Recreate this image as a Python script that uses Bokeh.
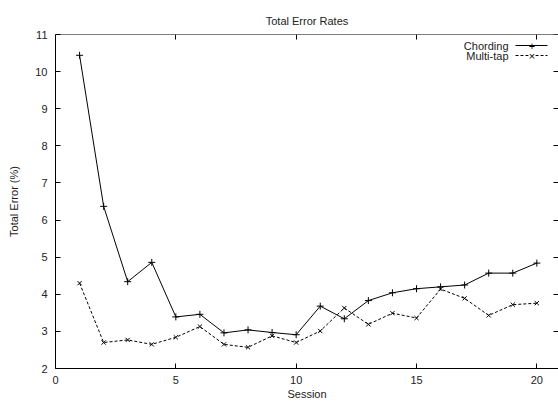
from bokeh.plotting import figure
from bokeh.models import Range1d, LinearAxis, FixedTicker, Label, Arrow
from bokeh.embed import file_html
from bokeh.resources import INLINE

sessions = list(range(1, 21))
chording = [10.44, 6.37, 4.34, 4.86, 3.39, 3.46, 2.96, 3.04, 2.97, 2.91,
            3.68, 3.34, 3.83, 4.04, 4.15, 4.20, 4.25, 4.57, 4.57, 4.84]
multitap = [4.30, 2.70, 2.77, 2.65, 2.84, 3.13, 2.65, 2.57, 2.88, 2.70,
            3.01, 3.63, 3.19, 3.49, 3.36, 4.14, 3.89, 3.43, 3.72, 3.76]
x_ticks = [0, 5, 10, 15, 20]
y_ticks = list(range(2, 12))
series_names = ["Chording", "Multi-tap"]
title_text = "Total Error Rates"

FONT = "Liberation Sans"
FS = "11px"
X_END = 20.9
Y_END = 11

p = figure(width=558, height=402, output_backend="svg", toolbar_location=None,
           title=title_text,
           x_range=Range1d(0, X_END), y_range=Range1d(2, Y_END),
           min_border_left=55, min_border_top=34, min_border_bottom=32,
           min_border_right=0)
p.background_fill_color = "white"
p.border_fill_color = "white"
p.outline_line_color = None
p.xgrid.visible = False
p.ygrid.visible = False

p.title.align = "center"
p.title.text_font = FONT
p.title.text_font_size = FS
p.title.text_font_style = "normal"
p.title.text_color = "#222222"
p.title.standoff = 16

def style(ax, labels=True):
    ax.major_tick_in = 5
    ax.major_tick_out = 0
    ax.minor_tick_line_color = None
    ax.axis_line_color = "black"
    ax.axis_line_width = 1
    ax.major_tick_line_color = "black"
    ax.major_label_text_font = FONT
    ax.major_label_text_font_size = FS
    ax.major_label_text_color = "#222222" if labels else None
    ax.axis_label_text_font = FONT
    ax.axis_label_text_font_size = FS
    ax.axis_label_text_font_style = "normal"
    ax.axis_label_text_color = "#222222"

xa = p.xaxis[0]
xa.ticker = FixedTicker(ticks=x_ticks)
xa.axis_label = "Session"
style(xa)
xa.major_label_standoff = 7
xa.axis_label_standoff = 1

ya = p.yaxis[0]
ya.ticker = FixedTicker(ticks=y_ticks)
ya.axis_label = "Total Error (%)"
style(ya)
ya.major_label_standoff = 8
ya.axis_label_standoff = 12

# top border with inward ticks
top = LinearAxis(ticker=FixedTicker(ticks=x_ticks), fixed_location=Y_END)
style(top, labels=False)
p.add_layout(top, "above")

# right-edge inward ticks: a left-side axis pinned at the right edge, ticks pointing left
right = LinearAxis(ticker=FixedTicker(ticks=y_ticks), fixed_location=X_END)
style(right, labels=False)
right.major_tick_in = 0
right.major_tick_out = 5
right.axis_line_color = None
p.add_layout(right, "left")

p.line(sessions, chording, line_color="black", line_width=1)
p.scatter(sessions, chording, marker="cross", size=7, line_color="black", line_width=1)
p.line(sessions, multitap, line_color="black", line_width=1, line_dash="3 2")
p.scatter(sessions, multitap, marker="x", size=6, line_color="black", line_width=1)

# legend (gnuplot style: text left, sample right)
leg_y = [45, 55]
dashes = ["solid", "3 2"]
marks = ["+", "\u00d7"]
for name, yy, dsh, mk in zip(series_names, leg_y, dashes, marks):
    p.add_layout(Label(x=508, y=yy, x_units="canvas", y_units="canvas", text=name,
                       text_align="right", text_baseline="middle",
                       text_font=FONT, text_font_size=FS, text_color="#222222"))
    p.add_layout(Arrow(end=None, x_start=515, x_end=547, y_start=yy, y_end=yy,
                       start_units="canvas", end_units="canvas",
                       line_color="black", line_width=1, line_dash=dsh))
    p.add_layout(Label(x=531.5, y=yy, x_units="canvas", y_units="canvas", text=mk,
                       text_align="center", text_baseline="middle",
                       text_font=FONT, text_font_size="11px", text_color="black",
                       background_fill_color="white" if dsh != "solid" else None))

open("out.html", "w").write(file_html(p, INLINE))
